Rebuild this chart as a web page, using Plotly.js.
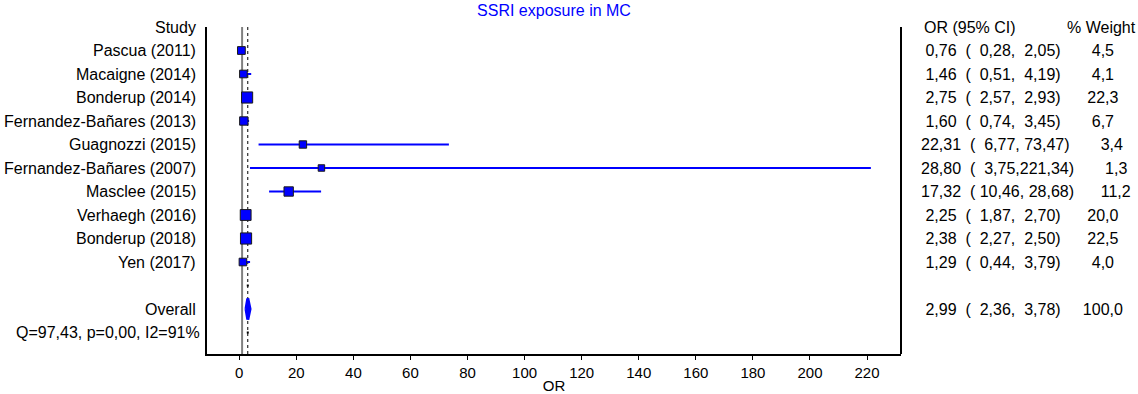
<!DOCTYPE html>
<html>
<head>
<meta charset="utf-8">
<script src="https://cdn.plot.ly/plotly-3.0.1.min.js"></script>
<style>
  html, body { margin: 0; padding: 0; background: #fff; }
  #chart { width: 1138px; height: 394px; }
</style>
</head>
<body>
<div id="chart"></div>
<script>
// ---- data ----
const chartTitle = "SSRI exposure in MC";
const studies = ["Pascua (2011)", "Macaigne (2014)", "Bonderup (2014)", "Fernandez-Bañares (2013)",
  "Guagnozzi (2015)", "Fernandez-Bañares (2007)", "Masclee (2015)", "Verhaegh (2016)",
  "Bonderup (2018)", "Yen (2017)"];
const oddsRatio = [0.76, 1.46, 2.75, 1.60, 22.31, 28.80, 17.32, 2.25, 2.38, 1.29];
const ciLow     = [0.28, 0.51, 2.57, 0.74, 6.77, 3.75, 10.46, 1.87, 2.27, 0.44];
const ciHigh    = [2.05, 4.19, 2.93, 3.45, 73.47, 221.34, 28.68, 2.70, 2.50, 3.79];
const weightPct = [4.5, 4.1, 22.3, 6.7, 3.4, 1.3, 11.2, 20.0, 22.5, 4.0];
const overallLabel = "Overall";
const overallOR = [2.99];
const overallLow = [2.36];
const overallHigh = [3.78];
const overallWeight = [100.0];
const heterogeneityLabel = "Q=97,43, p=0,00, I2=91%";
const headerStudy = "Study";
const headerCI = "OR (95% CI)";
const headerWeight = "% Weight";
const xAxisTitle = "OR";
const xTickVals = [0, 20, 40, 60, 80, 100, 120, 140, 160, 180, 200, 220];
const nullValue = 1;

// ---- helpers ----
const NB = "\u00A0";
function fmt(v, dec, width) {
  let s = v.toFixed(dec).replace(".", ",");
  while (s.length < width) s = NB + s;
  return s;
}
function rowText(o, l, h, w) {
  return fmt(o, 2, 5) + NB + NB + "(" + fmt(l, 2, 6) + "," + fmt(h, 2, 6) + ")" +
    NB + NB + NB + NB + NB + fmt(w, 1, 5);
}

const FONT = "Liberation Sans, Arial, Helvetica, sans-serif";
const FS = 16;
const studyRows = studies.map((_, i) => i + 1);
const blankRow = studies.length + 1;
const overallRow = studies.length + 2;
const hetRow = overallRow + 1;
const yBottom = 13.915;

const traces = [];
// CI lines + squares
traces.push({
  type: "scatter", mode: "markers",
  x: oddsRatio, y: studyRows,
  error_x: {
    type: "data", symmetric: false,
    array: oddsRatio.map((o, i) => ciHigh[i] - o),
    arrayminus: oddsRatio.map((o, i) => o - ciLow[i]),
    color: "#0000ff", thickness: 2, width: 0
  },
  marker: {
    symbol: "square", color: "#0000ff", opacity: 1,
    size: weightPct.map(w => 5 + 1.3 * Math.sqrt(w)),
    line: { color: "#1a1a1a", width: 1 }
  },
  hoverinfo: "skip", showlegend: false, cliponaxis: false
});
// Overall diamond
const dh = 0.45;
traces.push({
  type: "scatter", mode: "lines", fill: "toself",
  x: [overallLow[0], overallOR[0], overallHigh[0], overallOR[0], overallLow[0]],
  y: [overallRow, overallRow - dh, overallRow, overallRow + dh, overallRow],
  fillcolor: "#0000ff", line: { color: "#0000ff", width: 3 },
  hoverinfo: "skip", showlegend: false
});
// tiny marks on the pooled line at the blank and heterogeneity rows
traces.push({
  type: "scatter", mode: "markers",
  x: [overallOR[0], overallOR[0]], y: [blankRow, hetRow],
  marker: { symbol: "square", size: 2, color: "#000", opacity: 1 },
  hoverinfo: "skip", showlegend: false
});

const annotations = [];
const leftX = -9 / 694;
const tableX = (919 - 207) / 694;
function ann(x, y, anchor, text) {
  annotations.push({ xref: "paper", yref: "y", x: x, y: y, xanchor: anchor, yanchor: "middle",
    text: text, showarrow: false, font: { family: FONT, size: FS, color: "#000" } });
}
ann(leftX, 0, "right", headerStudy);
studies.forEach((s, i) => {
  ann(leftX, studyRows[i], "right", s);
  ann(tableX, studyRows[i], "left", rowText(oddsRatio[i], ciLow[i], ciHigh[i], weightPct[i]));
});
ann(leftX, overallRow, "right", overallLabel);
ann(tableX, overallRow, "left", rowText(overallOR[0], overallLow[0], overallHigh[0], overallWeight[0]));
ann(-5 / 694, hetRow, "right", heterogeneityLabel);
ann((922 - 207) / 694, 0, "left", headerCI);
ann((1065 - 207) / 694, 0, "left", headerWeight);

const shapes = [
  { type: "line", xref: "x", yref: "paper", x0: nullValue, x1: nullValue, y0: 0, y1: 1,
    line: { color: "#808080", width: 2 }, layer: "below" },
  { type: "line", xref: "x", yref: "paper", x0: overallOR[0], x1: overallOR[0], y0: 0, y1: 1,
    line: { color: "#000", width: 1, dash: "dot" }, layer: "below" },
  { type: "line", xref: "paper", yref: "paper", x0: 1, x1: 1, y0: 0, y1: 1,
    line: { color: "#000", width: 2 } }
];

const layout = {
  width: 1138, height: 394,
  margin: { l: 207, r: 237, t: 27, b: 40, pad: 0 },
  paper_bgcolor: "#fff", plot_bgcolor: "#fff",
  showlegend: false,
  title: { text: chartTitle, font: { family: FONT, size: 16, color: "#0000ff" },
    x: 0.5, xref: "paper", xanchor: "center", y: 1 - 10 / 394, yref: "container", yanchor: "middle" },
  xaxis: {
    range: [-11.3, 231.9], tickvals: xTickVals, ticks: "outside", ticklen: 4, tickcolor: "#000",
    tickfont: { family: FONT, size: 15, color: "#000" },
    showgrid: false, zeroline: false, showline: true, linecolor: "#000", linewidth: 2,
    title: { text: xAxisTitle, font: { family: FONT, size: 15, color: "#000" }, standoff: 7 },
    fixedrange: true
  },
  yaxis: {
    range: [yBottom, 0], showticklabels: false, ticks: "", showgrid: false, zeroline: false,
    showline: true, linecolor: "#000", linewidth: 2, fixedrange: true
  },
  shapes: shapes,
  annotations: annotations
};

Plotly.newPlot("chart", traces, layout, { displayModeBar: false, staticPlot: true });
</script>
</body>
</html>
